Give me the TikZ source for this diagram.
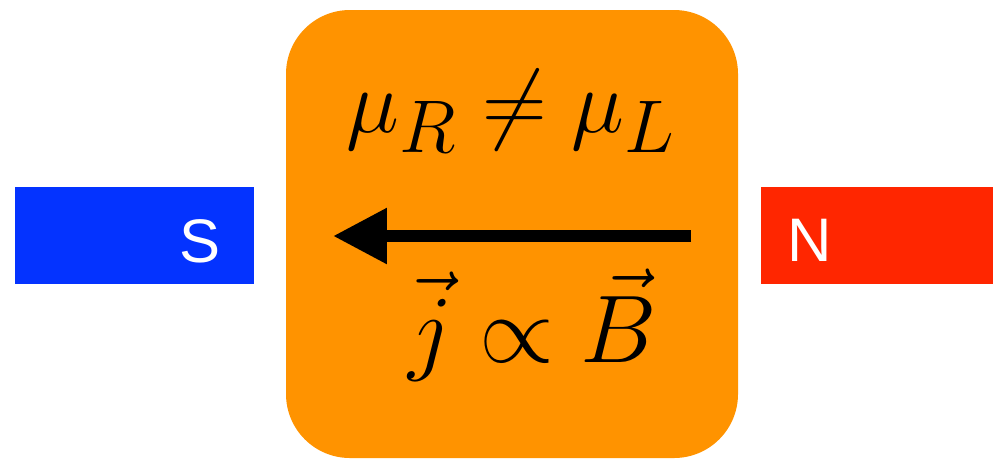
\documentclass[tikz,border=0pt]{standalone}
\usepackage{fontspec}
\newfontfamily\polefont{Liberation Sans}
\usetikzlibrary{arrows.meta}
\definecolor{poleblue}{RGB}{4,51,255}
\definecolor{polered}{RGB}{255,38,0}
\definecolor{boxorange}{RGB}{255,147,0}
\newcommand{\bigeq}[2]{\scalebox{#1}{\Huge$#2$}}
\tikzset{
  pole/.style={inner sep=0pt, anchor=base, text=white, font=\polefont\fontsize{35}{40}\selectfont},
  eqn/.style={inner sep=0pt, anchor=base},
  bigarrow/.style={line width=0.24cm, -{Triangle[length=1.08cm,width=1.06cm]}}
}
\begin{document}
\begin{tikzpicture}[x=0.02cm,y=-0.02cm]
\useasboundingbox (0,0) rectangle (993,458);
\fill[poleblue] (15,187) rectangle (254,284);
\fill[polered] (761,187) rectangle (993,284);
\fill[boxorange, rounded corners=1.28cm] (286,10) rectangle (738,458);
\node[pole] (S) at (200,262) {S};
\node[pole] (N) at (809.5,261) {N};
\node[eqn] (mu) at (511.5,132) {\bigeq{2.05}{\mu_R \neq \mu_L}};
\node[eqn] (jb) at (532.5,362) {\bigeq{2.2}{\vec{j} \propto \vec{B}}};
\coordinate (astart) at (691,236);
\coordinate (aend) at (333,236);
\draw[bigarrow] (astart) -- (aend);
\end{tikzpicture}
\end{document}
